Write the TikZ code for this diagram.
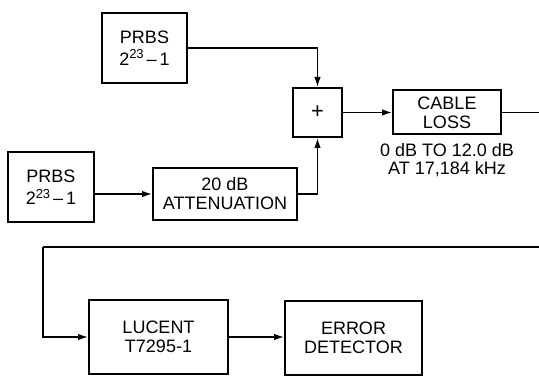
\documentclass[tikz,border=0pt]{standalone}
\usepackage{fontspec}
\setmainfont{Liberation Sans}
\usepackage{tikz}
\usetikzlibrary{positioning, arrows.meta}

\newcommand{\prbsexp}{2\raisebox{6.5pt}{\fontsize{13}{12}\selectfont 23}\,--\,1}

\begin{document}
\begin{tikzpicture}[x=1pt, y=-1pt, >={Latex[length=10pt,width=6.5pt]}, on grid,
        block/.style={draw, line width=2pt, align=center, inner sep=0pt,
            font=\fontsize{18}{19}\selectfont},
        note/.style={align=center, font=\fontsize{18}{18}\selectfont},
        wire/.style={line width=1.4pt}]
        \useasboundingbox (0,0) rectangle (539,377);
        \clip (0,0) rectangle (539,377);

        \node[block, minimum width=85pt, minimum height=70pt] (prbsA) at (144.5,48) {PRBS\\[3pt]\prbsexp};
        \node[block, minimum width=86pt, minimum height=70pt] (prbsB) at (51,187.5) {PRBS\\[3pt]\prbsexp};
        \node[block, minimum width=144pt, minimum height=52pt] (atten) at (225,194) {20 dB\\ATTENUATION};
        \node[block, minimum width=49pt, minimum height=49pt, font=\fontsize{22}{22}\selectfont] (plus) at (317.5,112.5) {+};
        \node[block, minimum width=108pt, minimum height=44pt] (cable) [right=129.5pt of plus] {CABLE\\LOSS};
        \node[note] (lossnote) [below=47.5pt of cable] {0 dB TO 12.0 dB\\AT 17,184 kHz};
        \node[block, minimum width=139pt, minimum height=73pt] (lucent) at (158.5,337) {LUCENT\\T7295-1};
        \node[block, minimum width=137pt, minimum height=73pt] (errdet) [right=195pt of lucent, yshift=-1pt] {ERROR\\DETECTOR};

        \coordinate (edgeA) at (560,112.5);
        \coordinate (edgeB) at (560,247);
        \coordinate (turn) at (43,247);

        \draw[wire, ->] (prbsA.east) -| (plus.north);
        \draw[wire, ->] (atten.east) -| (plus.south);
        \draw[wire, ->] (prbsB.east |- atten.west) -- (atten.west);
        \draw[wire, ->] (plus.east) -- (cable.west);
        \draw[wire] (cable.east) -- (edgeA) -- (edgeB) -- (turn);
        \draw[wire, ->] (turn) |- (lucent.west);
        \draw[wire, ->] (lucent.east) -- (lucent.east -| errdet.west);

    \end{tikzpicture}
\end{document}
